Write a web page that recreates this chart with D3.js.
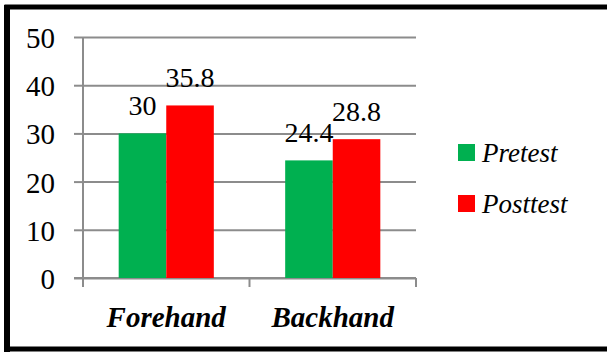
<!DOCTYPE html>
<html>
<head>
<meta charset="utf-8">
<script src="https://cdn.jsdelivr.net/npm/d3@7"></script>
<style>
  body { margin: 0; background: #fff; }
</style>
</head>
<body>
<div id="chart"></div>
<script>
// data
var categories = ["Forehand", "Backhand"];
var seriesNames = ["Pretest", "Posttest"];
var seriesColors = ["#00b050", "#ff0000"];
var pretest = [30, 24.4];
var posttest = [35.8, 28.8];
var yTicks = [0, 10, 20, 30, 40, 50];

var W = 607, H = 352;
var serif = "'Liberation Serif', Tinos, 'Times New Roman', Times, 'DejaVu Serif', serif";

var svg = d3.select("#chart").append("svg")
    .attr("width", W).attr("height", H)
    .attr("font-family", serif);

// outer frame (thick black, right side runs off the picture)
svg.append("rect").attr("x", 7).attr("y", 7).attr("width", W).attr("height", 342)
    .style("fill", "none").style("stroke", "#000").style("stroke-width", 5);
svg.append("line").attr("x1", 7).attr("x2", 7).attr("y1", 5).attr("y2", 352)
    .style("stroke", "#000").style("stroke-width", 6);

//---- scales
var x0 = d3.scaleBand().domain(categories).range([83, 416]).paddingInner(0).paddingOuter(0);
var x1 = d3.scaleBand().domain(seriesNames).range([0, x0.bandwidth()]).paddingInner(0).paddingOuter(0.75);
var y = d3.scaleLinear().domain([0, 50]).range([278, 37]);

var gridColor = "#8c8c8c";

// gridlines + y ticks
var yAxis = d3.axisLeft(y).tickValues(yTicks).tickSize(9).tickFormat(d3.format("d"));
var gy = svg.append("g").attr("transform", "translate(83,0)").call(yAxis)
    .attr("font-family", null).attr("font-size", null);
gy.select(".domain").remove();
gy.selectAll(".tick line").style("stroke", gridColor).style("stroke-width", 2);
gy.selectAll(".tick text").attr("x", -28).attr("dy", "0.36em")
    .style("font-size", "29px").style("font-family", serif).style("fill", "#000");
gy.selectAll(".tick").append("line")
    .attr("x1", 0).attr("x2", 416 - 83)
    .style("stroke", gridColor).style("stroke-width", 2);

// y axis line
svg.append("line").attr("x1", 83).attr("x2", 83).attr("y1", y(50)).attr("y2", y(0) + 9)
    .style("stroke", gridColor).style("stroke-width", 2);

// x axis with category ticks at band edges
svg.append("line").attr("x1", 74).attr("x2", 416).attr("y1", y(0)).attr("y2", y(0))
    .style("stroke", gridColor).style("stroke-width", 2);
var edges = categories.map(function(c) { return x0(c); }).concat([x0(categories[1]) + x0.bandwidth()]);
svg.selectAll(".xtick").data(edges).enter().append("line")
    .attr("x1", function(d) { return d; }).attr("x2", function(d) { return d; })
    .attr("y1", y(0)).attr("y2", y(0) + 9)
    .style("stroke", gridColor).style("stroke-width", 2);

//---- bars
var series = [pretest, posttest];
series.forEach(function(vals, j) {
    var g = svg.append("g");
    g.selectAll("rect").data(vals).enter().append("rect")
        .attr("x", function(d, i) { return x0(categories[i]) + x1(seriesNames[j]); })
        .attr("y", function(d) { return y(d); })
        .attr("width", x1.bandwidth())
        .attr("height", function(d) { return y(0) - y(d); })
        .style("fill", seriesColors[j]);
    g.selectAll("text").data(vals).enter().append("text")
        .attr("x", function(d, i) { return x0(categories[i]) + x1(seriesNames[j]) + x1.bandwidth() / 2; })
        .attr("y", function(d) { return y(d) - 18; })
        .attr("text-anchor", "middle")
        .style("font-size", "28px").style("font-family", serif)
        .text(function(d) { return d; });
});

// category labels
svg.selectAll(".cat").data(categories).enter().append("text")
    .attr("x", function(d) { return x0(d) + x0.bandwidth() / 2; })
    .attr("y", 327)
    .attr("text-anchor", "middle")
    .style("font-size", "29px").style("font-weight", "bold").style("font-style", "italic")
    .style("font-family", serif)
    .text(function(d) { return d; });

// legend
var legend = svg.append("g").attr("transform", "translate(458,144)");
seriesNames.forEach(function(s, i) {
    legend.append("rect").attr("x", 0).attr("y", i * 51).attr("width", 17).attr("height", 17)
        .style("fill", seriesColors[i]);
    legend.append("text").attr("x", 24).attr("y", i * 51 + 18)
        .style("font-size", "27px").style("font-style", "italic").style("font-family", serif)
        .text(s);
});
</script>
</body>
</html>
